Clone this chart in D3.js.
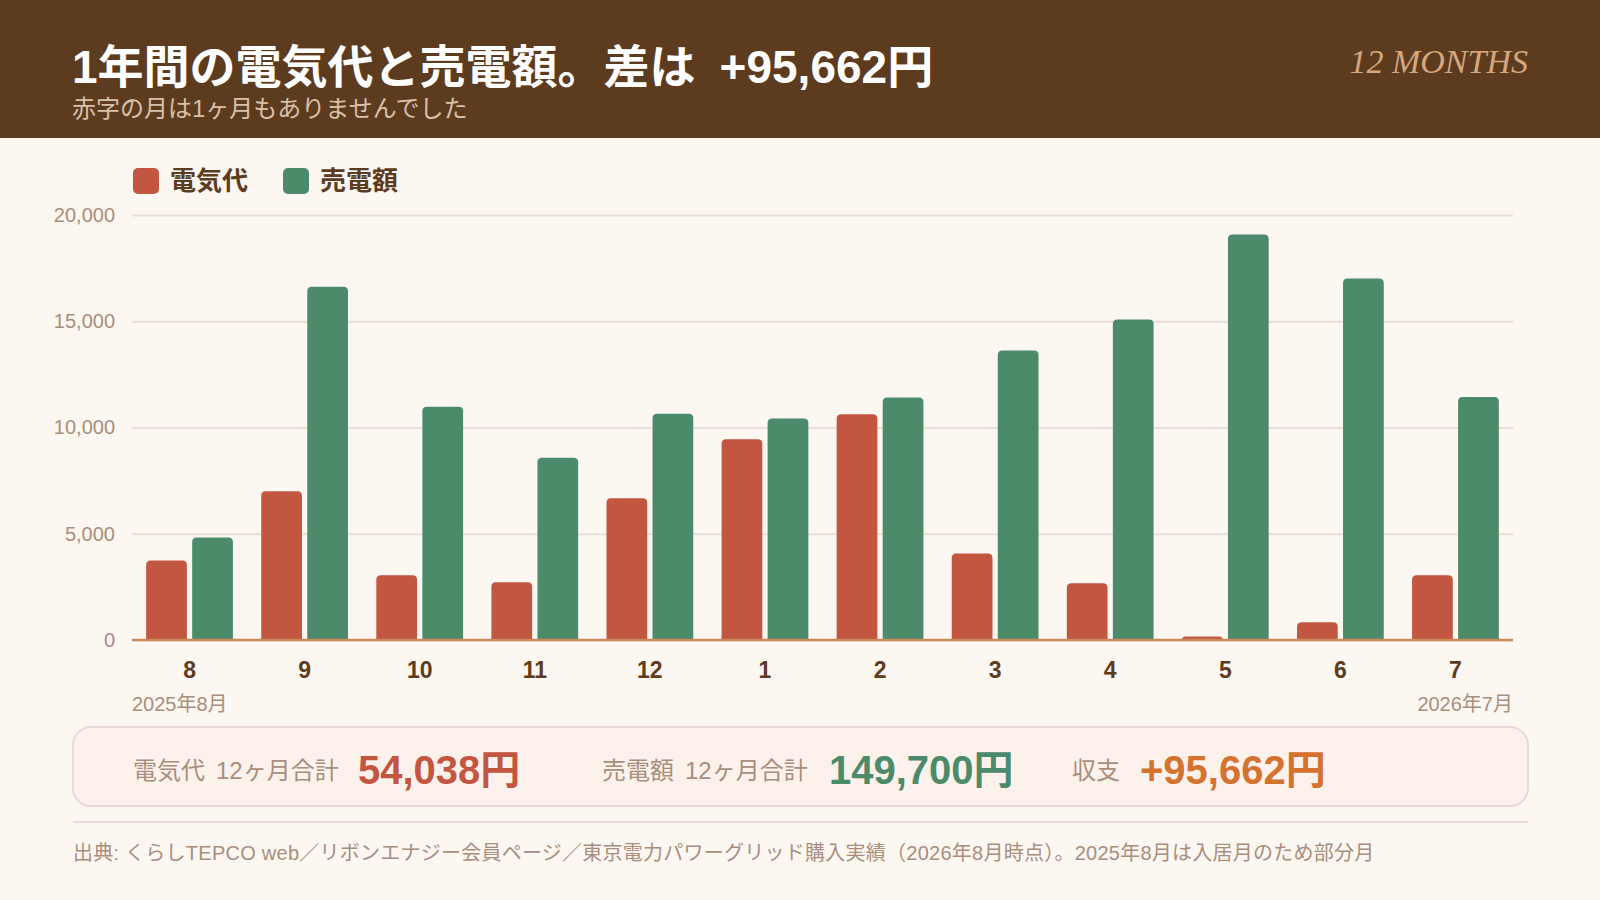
<!DOCTYPE html>
<html lang="ja">
<head>
<meta charset="utf-8">
<script src="https://cdn.jsdelivr.net/npm/d3@7"></script>
<style>
  body { margin: 0; background: #fdf7f2; }
  svg { display: block; font-family: "Liberation Sans", Arial, "Noto Sans CJK JP", sans-serif; }
</style>
</head>
<body>
<div id="chart"></div>
<script>
// monthly values (yen), Aug 2025 - Jul 2026
var months = ["8", "9", "10", "11", "12", "1", "2", "3", "4", "5", "6", "7"];
var electricity = [3745, 6995, 3050, 2715, 6665, 9450, 10625, 4075, 2670, 170, 830, 3048];
var sales = [4820, 16620, 10980, 8580, 10650, 10420, 11410, 13620, 15080, 19080, 17010, 11430];
var seriesNames = ["電気代", "売電額"];
var yTicks = [0, 5000, 10000, 15000, 20000];
var firstLabel = "2025年8月", lastLabel = "2026年7月";

var colors = ["#c25640", "#4c8b6a"];
var brown = "#5d3b1e", muted = "#a88e7c", grid = "#ebdfd5";

var W = 1600, H = 900;
var margin = {top: 215, right: 87, bottom: 260, left: 132},
    width = W - margin.left - margin.right,
    height = H - margin.top - margin.bottom;

var svg = d3.select("#chart").append("svg")
    .attr("width", W).attr("height", H);

svg.append("rect").attr("width", W).attr("height", H).attr("fill", "#fdf7f2");

// header band
svg.append("rect").attr("width", W).attr("height", 138).attr("fill", "#5d3b1e");

var totalE = d3.sum(electricity), totalS = d3.sum(sales), diff = totalS - totalE;
var fmt = d3.format(",");

var title = svg.append("text")
    .attr("x", 72).attr("y", 83)
    .style("font-size", "46px").style("font-weight", "bold").attr("fill", "#ffffff");
title.append("tspan").text("1年間の電気代と売電額。差は");
title.append("tspan").attr("dx", 24).text((diff >= 0 ? "+" : "") + fmt(diff) + "円");

svg.append("text")
    .attr("x", 72).attr("y", 117)
    .style("font-size", "24px").attr("fill", "#d9c1aa")
    .text("赤字の月は1ヶ月もありませんでした");

svg.append("text")
    .attr("x", 1528).attr("y", 73)
    .attr("text-anchor", "end")
    .style("font-family", "'Liberation Serif', 'DejaVu Serif', serif")
    .style("font-style", "italic").style("font-size", "34px")
    .attr("fill", "#d6a67c")
    .text(months.length + " MONTHS");

// legend
var lg = svg.selectAll(".legend").data(seriesNames).enter().append("g")
    .attr("class", "legend")
    .attr("transform", function(d, i) { return "translate(" + (133 + i * 150) + ",168)"; });
lg.append("rect").attr("width", 26).attr("height", 26).attr("rx", 5)
    .attr("fill", function(d, i) { return colors[i]; });
lg.append("text").attr("x", 37).attr("y", 22)
    .style("font-size", "26px").style("font-weight", "bold").attr("fill", brown)
    .text(function(d) { return d; });

var g = svg.append("g").attr("transform", "translate(" + margin.left + "," + margin.top + ")");

var x0 = d3.scaleBand().domain(months).range([0, width]).paddingInner(0.246).paddingOuter(0.123);
var x1 = d3.scaleBand().domain([0, 1]).range([0, x0.bandwidth()]).paddingInner(0.115);
var y = d3.scaleLinear().domain([0, 20000]).range([height, 0]);

// y axis + grid
var yAxis = g.append("g").attr("class", "y axis")
    .call(d3.axisLeft(y).tickValues(yTicks).tickSize(-width).tickPadding(17).tickFormat(fmt));
yAxis.select(".domain").remove();
yAxis.selectAll("line").attr("stroke", grid).attr("stroke-width", 2);
yAxis.selectAll("text").attr("fill", muted)
    .style("font-size", "20px").style("font-family", "'Liberation Sans', Arial, sans-serif");

// bars with rounded tops
function topRounded(x, yv, w, h, r) {
    r = Math.min(r, h, w / 2);
    return "M" + x + "," + (yv + h) +
        "V" + (yv + r) +
        "Q" + x + "," + yv + " " + (x + r) + "," + yv +
        "H" + (x + w - r) +
        "Q" + (x + w) + "," + yv + " " + (x + w) + "," + (yv + r) +
        "V" + (yv + h) + "Z";
}

var rows = months.map(function(m, i) { return {month: m, values: [electricity[i], sales[i]]}; });

var groups = g.selectAll(".month").data(rows).enter().append("g")
    .attr("class", "month")
    .attr("transform", function(d) { return "translate(" + x0(d.month) + ",0)"; });

groups.selectAll("path").data(function(d) { return d.values; }).enter().append("path")
    .attr("fill", function(d, i) { return colors[i]; })
    .attr("d", function(d, i) {
        return topRounded(x1(i), y(d), x1.bandwidth(), height - y(d), 4.5);
    });

// baseline
g.append("line").attr("x1", 0).attr("x2", width).attr("y1", height).attr("y2", height)
    .attr("stroke", "#c98a5c").attr("stroke-width", 2.5);

// x axis
var xAxis = g.append("g").attr("class", "x axis")
    .attr("transform", "translate(0," + height + ")")
    .call(d3.axisBottom(x0).tickSize(0).tickPadding(22));
xAxis.select(".domain").remove();
xAxis.selectAll("text").attr("fill", brown)
    .style("font-size", "23px").style("font-weight", "bold")
    .style("font-family", "'Liberation Sans', Arial, sans-serif");

g.append("text").attr("x", 0).attr("y", height + 71)
    .style("font-size", "20px").attr("fill", muted).text(firstLabel);
g.append("text").attr("x", width).attr("y", height + 71).attr("text-anchor", "end")
    .style("font-size", "20px").attr("fill", muted).text(lastLabel);

// summary box
svg.append("rect").attr("x", 73).attr("y", 727).attr("width", 1455).attr("height", 79)
    .attr("rx", 18).attr("fill", "#fdf1ec").attr("stroke", "#e8dad0").attr("stroke-width", 2);

var summary = [
    {label: seriesNames[0], sub: "12ヶ月合計", value: fmt(totalE) + "円", color: colors[0], lx: 133, sx: 216, vx: 358},
    {label: seriesNames[1], sub: "12ヶ月合計", value: fmt(totalS) + "円", color: colors[1], lx: 602, sx: 685, vx: 829},
    {label: "収支", sub: "", value: (diff >= 0 ? "+" : "") + fmt(diff) + "円", color: "#d4722f", lx: 1072, sx: 0, vx: 1140}
];
summary.forEach(function(s) {
    svg.append("text").attr("x", s.lx).attr("y", 779)
        .style("font-size", "24px").attr("fill", muted).text(s.label);
    if (s.sub) {
        svg.append("text").attr("x", s.sx).attr("y", 779)
            .style("font-size", "24px").attr("fill", muted).text(s.sub);
    }
    svg.append("text").attr("x", s.vx).attr("y", 784)
        .style("font-size", "40px").style("font-weight", "bold")
        .attr("fill", s.color).text(s.value);
});

// separator + source
svg.append("line").attr("x1", 73).attr("x2", 1528).attr("y1", 822).attr("y2", 822)
    .attr("stroke", "#e8dad0").attr("stroke-width", 2);

svg.append("text").attr("x", 73).attr("y", 860)
    .style("font-size", "20px").style("letter-spacing", "0.25px").attr("fill", muted)
    .text("出典: くらしTEPCO web／リボンエナジー会員ページ／東京電力パワーグリッド購入実績（2026年8月時点）。2025年8月は入居月のため部分月");
</script>
</body>
</html>
